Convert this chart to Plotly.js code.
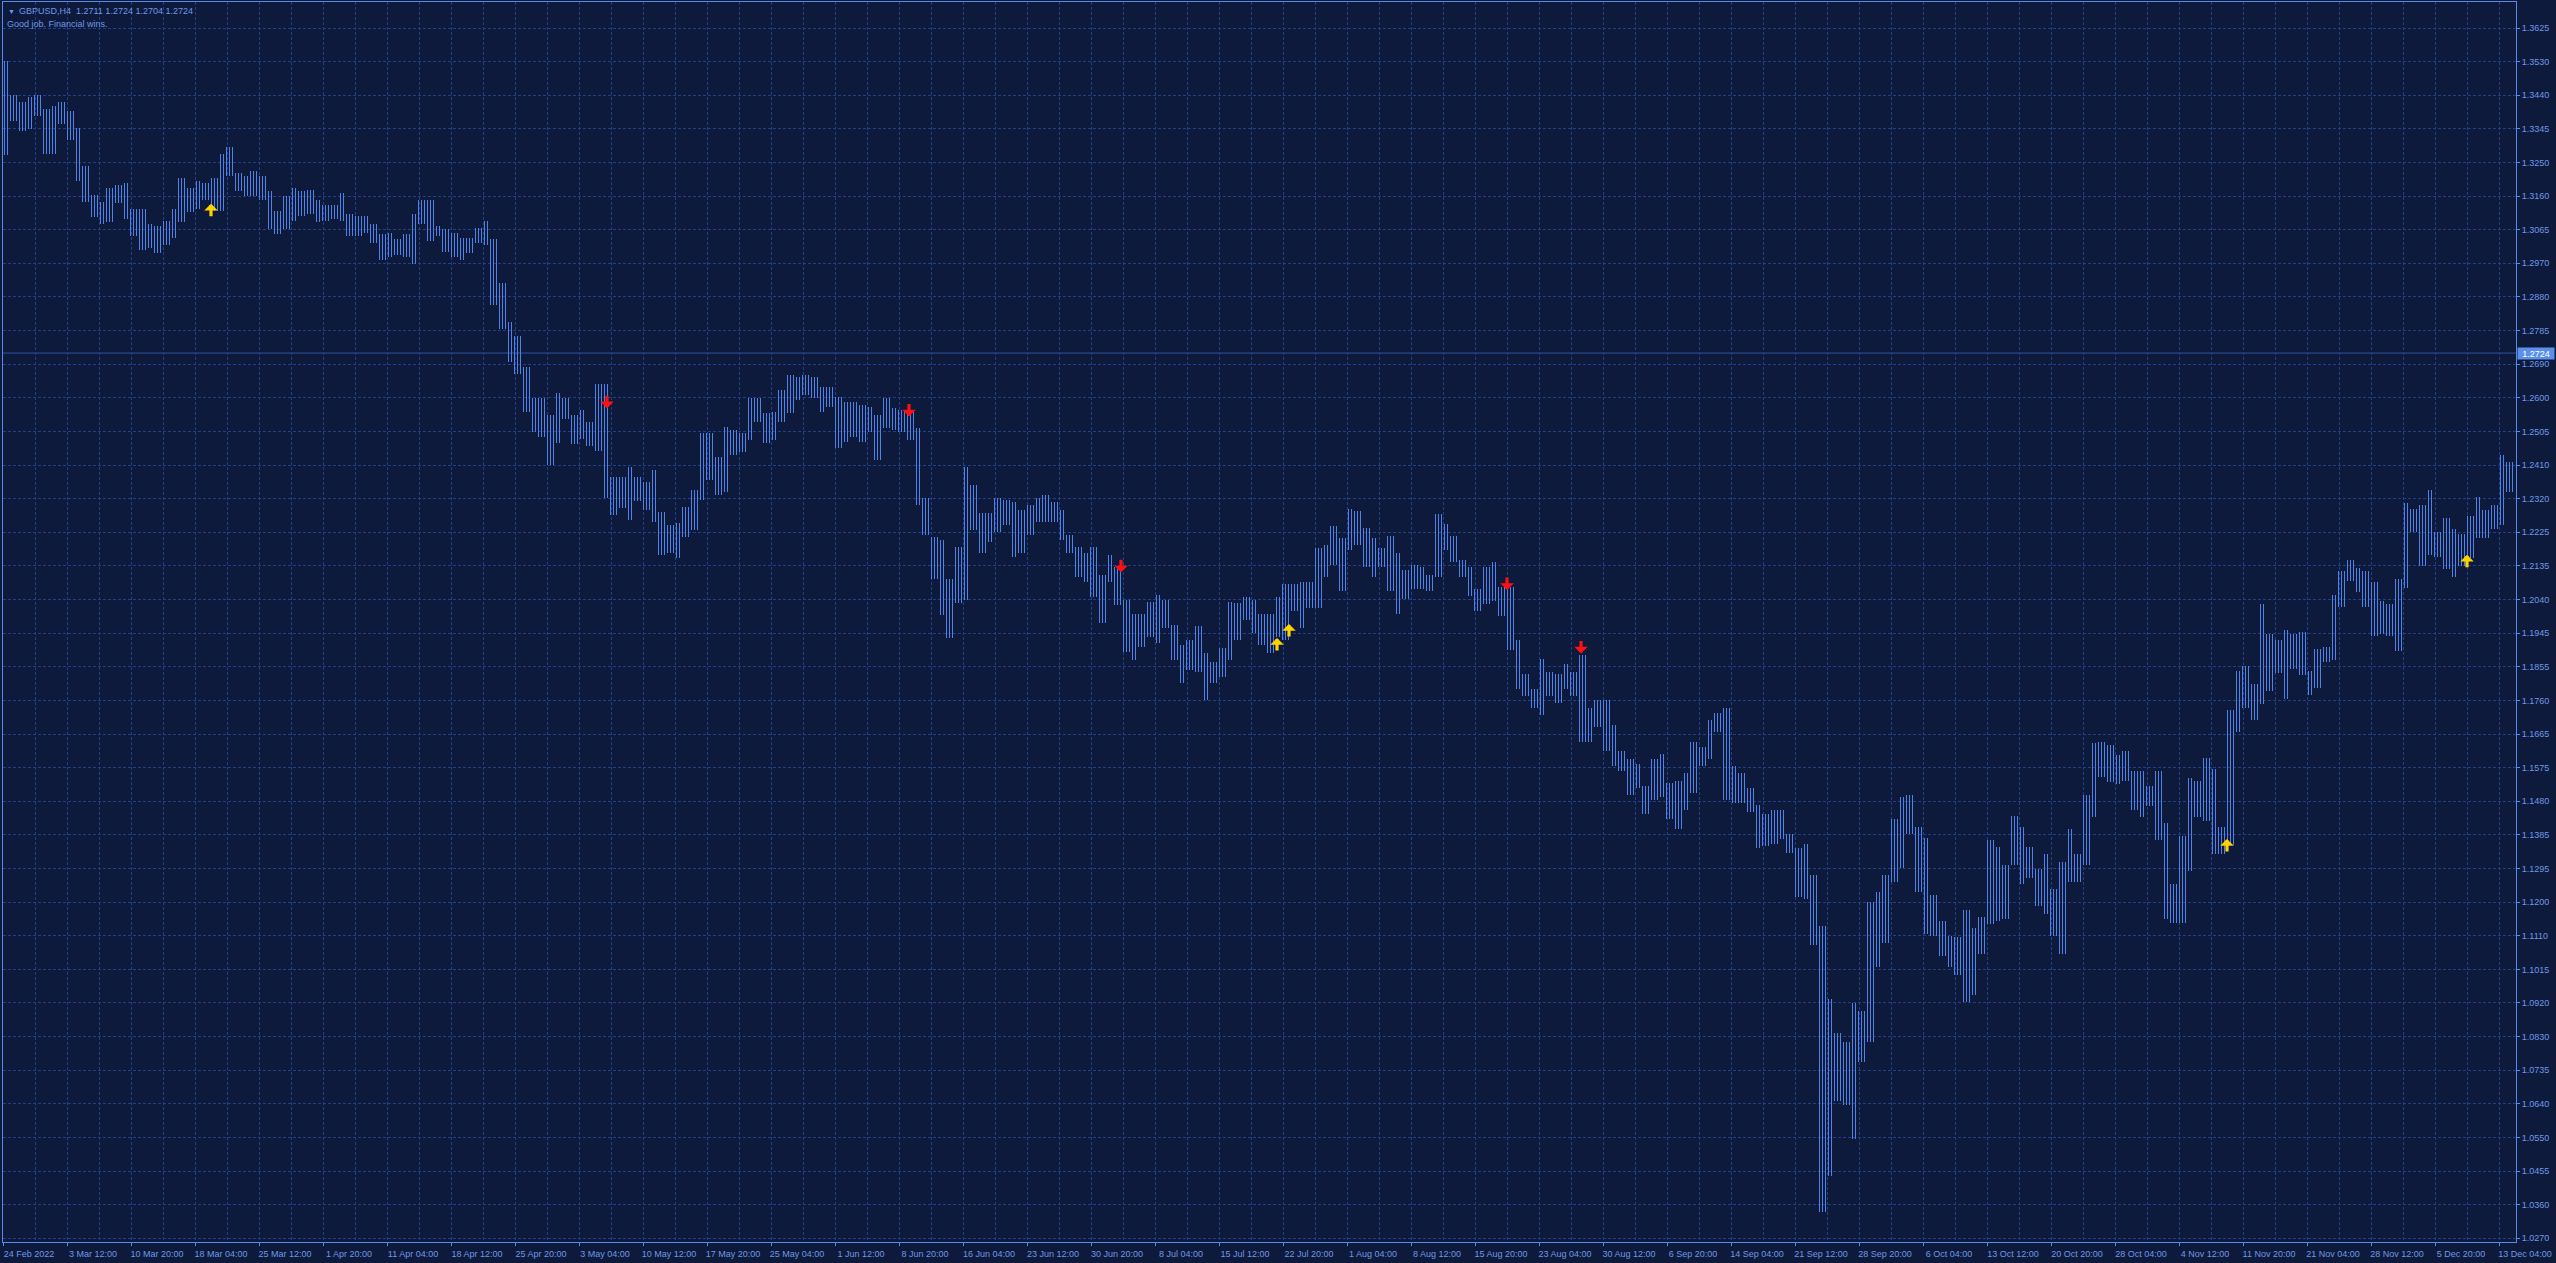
<!DOCTYPE html>
<html><head><meta charset="utf-8">
<script src="https://cdn.plot.ly/plotly-3.0.1.min.js"></script>
<style>html,body{margin:0;padding:0;background:#0e1a3c;overflow:hidden}#chart{width:2556px;height:1263px}</style>
</head><body><div id="chart"></div>
<script>
// ---------- data ----------
const symbolName = "GBPUSD,H4";
const lastBarOHLC = [1.2711, 1.2724, 1.2704, 1.2724];
const chartComment = "Good job. Financial wins.";
const currentPrice = 1.2724;
const barsPerGroup = 4;        // each entry below = high/low of 4 consecutive H4 bars
const barsPerXLabel = 32;

const groupHigh = [
 1.3533,1.3439,1.3420,1.3434,1.3439,1.3401,1.3410,1.3420,1.3396,1.3348,
 1.3243,1.3163,1.3143,1.3181,1.3191,1.3196,1.3124,1.3124,1.3081,1.3077,
 1.3091,1.3124,1.3210,1.3181,1.3201,1.3196,1.3210,1.3277,1.3296,1.3224,
 1.3215,1.3229,1.3215,1.3172,1.3119,1.3158,1.3181,1.3172,1.3177,1.3148,
 1.3134,1.3134,1.3167,1.3110,1.3105,1.3105,1.3081,1.3053,1.3058,1.3039,
 1.3053,1.3110,1.3148,1.3148,1.3077,1.3067,1.3058,1.3043,1.3043,1.3072,
 1.3091,1.3039,1.2919,1.2809,1.2771,1.2685,1.2600,1.2600,1.2552,1.2614,
 1.2600,1.2552,1.2566,1.2533,1.2638,1.2638,1.2380,1.2380,1.2409,1.2380,
 1.2367,1.2400,1.2284,1.2247,1.2252,1.2298,1.2344,1.2501,1.2501,1.2437,
 1.2520,1.2511,1.2501,1.2598,1.2598,1.2557,1.2561,1.2621,1.2663,1.2658,
 1.2663,1.2658,1.2631,1.2631,1.2603,1.2589,1.2589,1.2580,1.2575,1.2552,
 1.2598,1.2571,1.2566,1.2561,1.2515,1.2321,1.2215,1.2206,1.2099,1.2187,
 1.2409,1.2358,1.2280,1.2280,1.2321,1.2316,1.2312,1.2289,1.2303,1.2321,
 1.2330,1.2312,1.2289,1.2220,1.2187,1.2169,1.2187,1.2109,1.2164,1.2132,
 1.2039,1.2002,1.2002,1.2035,1.2053,1.2039,1.1970,1.1915,1.1928,1.1966,
 1.1892,1.1868,1.1906,1.2035,1.2030,1.2049,1.2039,1.2002,1.2002,1.2049,
 1.2083,1.2083,1.2090,1.2090,1.2184,1.2191,1.2244,1.2211,1.2291,1.2285,
 1.2238,1.2211,1.2184,1.2218,1.2170,1.2123,1.2137,1.2130,1.2110,1.2278,
 1.2251,1.2218,1.2150,1.2130,1.2070,1.2130,1.2144,1.2076,1.2076,1.1929,
 1.1834,1.1794,1.1875,1.1841,1.1834,1.1861,1.1841,1.1888,1.1740,1.1761,
 1.1761,1.1693,1.1620,1.1599,1.1586,1.1525,1.1599,1.1613,1.1532,1.1539,
 1.1559,1.1646,1.1633,1.1707,1.1727,1.1740,1.1579,1.1559,1.1519,1.1472,
 1.1445,1.1458,1.1458,1.1391,1.1351,1.1364,1.1277,1.1136,1.0934,1.0840,
 1.0813,1.0921,1.0900,1.1203,1.1230,1.1277,1.1431,1.1492,1.1499,1.1411,
 1.1380,1.1221,1.1150,1.1109,1.1104,1.1181,1.1129,1.1160,1.1375,1.1355,
 1.1304,1.1442,1.1411,1.1355,1.1293,1.1334,1.1237,1.1314,1.1406,1.1334,
 1.1498,1.1642,1.1647,1.1637,1.1611,1.1621,1.1565,1.1565,1.1524,1.1565,
 1.1422,1.1252,1.1386,1.1545,1.1539,1.1601,1.1570,1.1411,1.1734,1.1842,
 1.1857,1.1806,1.2027,1.1945,1.1929,1.1955,1.1945,1.1950,1.1842,1.1903,
 1.1909,1.2052,1.2119,1.2150,1.2129,1.2119,1.2088,1.2037,1.2027,1.2098,
 1.2309,1.2293,1.2303,1.2345,1.2227,1.2268,1.2237,1.2221,1.2273,1.2324,
 1.2288,1.2303,1.2442,1.2421
];
const groupLow = [
 1.3272,1.3367,1.3339,1.3344,1.3382,1.3277,1.3277,1.3358,1.3315,1.3201,
 1.3143,1.3100,1.3081,1.3086,1.3139,1.3096,1.3048,1.3010,1.3014,1.3000,
 1.3024,1.3043,1.3086,1.3115,1.3124,1.3148,1.3119,1.3118,1.3215,1.3172,
 1.3158,1.3158,1.3148,1.3067,1.3053,1.3067,1.3091,1.3105,1.3110,1.3086,
 1.3091,1.3096,1.3091,1.3048,1.3048,1.3058,1.3029,1.2981,1.2991,1.2995,
 1.2991,1.2972,1.3081,1.3034,1.3048,1.3005,1.2991,1.2981,1.3000,1.3029,
 1.3024,1.2857,1.2790,1.2700,1.2666,1.2561,1.2504,1.2490,1.2414,1.2475,
 1.2542,1.2471,1.2485,1.2466,1.2452,1.2323,1.2275,1.2294,1.2261,1.2313,
 1.2289,1.2257,1.2164,1.2169,1.2155,1.2215,1.2233,1.2316,1.2372,1.2330,
 1.2340,1.2441,1.2451,1.2483,1.2534,1.2474,1.2483,1.2534,1.2557,1.2594,
 1.2608,1.2598,1.2561,1.2575,1.2460,1.2478,1.2492,1.2478,1.2506,1.2427,
 1.2515,1.2511,1.2506,1.2483,1.2303,1.2220,1.2099,1.1998,1.1933,1.2030,
 1.2039,1.2233,1.2169,1.2201,1.2229,1.2247,1.2160,1.2169,1.2220,1.2257,
 1.2257,1.2257,1.2206,1.2169,1.2104,1.2090,1.2049,1.1975,1.2090,1.2026,
 1.1896,1.1873,1.1910,1.1938,1.1919,1.1961,1.1873,1.1808,1.1845,1.1841,
 1.1762,1.1808,1.1827,1.1873,1.1928,1.1984,1.1947,1.1915,1.1892,1.1938,
 1.1929,1.2009,1.1962,1.2016,1.2016,1.2103,1.2137,1.2063,1.2177,1.2191,
 1.2130,1.2103,1.2130,1.2063,1.2002,1.2043,1.2070,1.2070,1.2063,1.2103,
 1.2177,1.2144,1.2103,1.2050,1.2009,1.2029,1.2036,1.1996,1.1902,1.1794,
 1.1774,1.1740,1.1720,1.1774,1.1754,1.1794,1.1774,1.1646,1.1646,1.1687,
 1.1620,1.1579,1.1566,1.1499,1.1519,1.1445,1.1485,1.1492,1.1431,1.1404,
 1.1458,1.1505,1.1579,1.1599,1.1673,1.1485,1.1478,1.1478,1.1451,1.1351,
 1.1357,1.1364,1.1378,1.1337,1.1217,1.1210,1.1082,1.0343,1.0443,1.0652,
 1.0639,1.0544,1.0760,1.0813,1.1021,1.1089,1.1257,1.1297,1.1391,1.1230,
 1.1114,1.1109,1.1052,1.1022,1.1001,1.0924,1.0945,1.1057,1.1140,1.1150,
 1.1155,1.1304,1.1252,1.1268,1.1191,1.1170,1.1109,1.1057,1.1257,1.1257,
 1.1304,1.1437,1.1550,1.1534,1.1529,1.1539,1.1457,1.1437,1.1468,1.1375,
 1.1155,1.1145,1.1145,1.1288,1.1437,1.1427,1.1334,1.1334,1.1360,1.1673,
 1.1739,1.1708,1.1750,1.1786,1.1837,1.1765,1.1847,1.1832,1.1775,1.1796,
 1.1868,1.1873,1.2021,1.2093,1.2062,1.2021,1.1939,1.1945,1.1939,1.1898,
 1.2073,1.2227,1.2134,1.2165,1.2160,1.2124,1.2103,1.2134,1.2155,1.2211,
 1.2211,1.2237,1.2247,1.2339
];

const xTickLabels = ["24 Feb 2022","3 Mar 12:00","10 Mar 20:00","18 Mar 04:00","25 Mar 12:00","1 Apr 20:00","11 Apr 04:00","18 Apr 12:00","25 Apr 20:00","3 May 04:00","10 May 12:00","17 May 20:00","25 May 04:00","1 Jun 12:00","8 Jun 20:00","16 Jun 04:00","23 Jun 12:00","30 Jun 20:00","8 Jul 04:00","15 Jul 12:00","22 Jul 20:00","1 Aug 04:00","8 Aug 12:00","15 Aug 20:00","23 Aug 04:00","30 Aug 12:00","6 Sep 20:00","14 Sep 04:00","21 Sep 12:00","28 Sep 20:00","6 Oct 04:00","13 Oct 12:00","20 Oct 20:00","28 Oct 04:00","4 Nov 12:00","11 Nov 20:00","21 Nov 04:00","28 Nov 12:00","5 Dec 20:00","13 Dec 04:00"];

const yTickLabels = ["1.3625","1.3530","1.3440","1.3345","1.3250","1.3160","1.3065","1.2970","1.2880","1.2785","1.2690","1.2600","1.2505","1.2410","1.2320","1.2225","1.2135","1.2040","1.1945","1.1855","1.1760","1.1665","1.1575","1.1480","1.1385","1.1295","1.1200","1.1110","1.1015","1.0920","1.0830","1.0735","1.0640","1.0550","1.0455","1.0360","1.0270"];

const buyArrowBar   = [104, 637, 643, 1112, 1232];
const buyArrowPrice = [1.3138, 1.1934, 1.1973, 1.1377, 1.2165];
const sellArrowBar   = [302, 453, 559, 752, 789];
const sellArrowPrice = [1.2571, 1.2548, 1.2116, 1.2067, 1.1891];

// ---------- styles ----------
const BG = '#0e1a3c';
const GRID = '#213f85';
const FRAME = '#5b8ae6';
const TEXT = '#6f98e4';
const BAR = '#5282e6';
const FONT = '"Liberation Sans", Arial, sans-serif';

const gx = groupHigh.map((_, g) => g * barsPerGroup + (barsPerGroup - 1) / 2);
const gRange = groupHigh.map((h, g) => h - groupLow[g]);

const topVal = parseFloat(yTickLabels[0]);
const botVal = parseFloat(yTickLabels[yTickLabels.length - 1]);
const yStep = (topVal - botVal) / (yTickLabels.length - 1);
const yTickVals = yTickLabels.map((_, k) => topVal - k * yStep);
const pxPerStep = 33.62;
const pricePerPx = yStep / pxPerStep;
const yMax = topVal + 26 * pricePerPx;
const yMin = topVal - 1214 * pricePerPx;

const xTickVals = xTickLabels.map((_, k) => k * barsPerXLabel);

const traces = [{
  type: 'bar', x: gx, base: groupLow, y: gRange, width: barsPerGroup,
  marker: { color: 'rgba(0,0,0,0)', line: { width: 0 },
    pattern: { shape: '|', size: 3, solidity: 0.34, fgcolor: BAR, bgcolor: 'rgba(0,0,0,0)', fillmode: 'replace' } },
  hoverinfo: 'skip', showlegend: false
}];

const annotations = [];
annotations.push({ xref: 'paper', yref: 'paper', x: 0, y: 1, xanchor: 'left', yanchor: 'middle', xshift: 3, yshift: -9,
  text: '\u25BC', showarrow: false, font: { family: FONT, size: 7, color: TEXT } });
annotations.push({ xref: 'paper', yref: 'paper', x: 0, y: 1, xanchor: 'left', yanchor: 'middle', xshift: 14, yshift: -9,
  text: symbolName + '\u00a0\u00a0' + lastBarOHLC.map(v => v.toFixed(4)).join(' '), showarrow: false,
  font: { family: FONT, size: 9, color: TEXT } });
annotations.push({ xref: 'paper', yref: 'paper', x: 0, y: 1, xanchor: 'left', yanchor: 'middle', xshift: 2, yshift: -22,
  text: chartComment, showarrow: false, font: { family: FONT, size: 9, color: TEXT } });
annotations.push({ xref: 'paper', yref: 'y', x: 1, y: currentPrice, xanchor: 'left', yanchor: 'middle', xshift: 1,
  text: currentPrice.toFixed(4), showarrow: false, bgcolor: '#5b8fe9', width: 34, height: 9, borderpad: 1,
  font: { family: FONT, size: 9, color: '#ffffff' } });

buyArrowBar.forEach((b, k) => annotations.push({ x: b, y: buyArrowPrice[k], xref: 'x', yref: 'y', text: '',
  showarrow: true, ax: 0, ay: 14, arrowhead: 1, arrowsize: 0.7, arrowwidth: 3.2, arrowcolor: '#ffd200', standoff: 0 }));
sellArrowBar.forEach((b, k) => annotations.push({ x: b, y: sellArrowPrice[k], xref: 'x', yref: 'y', text: '',
  showarrow: true, ax: 0, ay: -14, arrowhead: 1, arrowsize: 0.7, arrowwidth: 3.2, arrowcolor: '#ff1010', standoff: 0 }));

const layout = {
  width: 2556, height: 1263,
  margin: { l: 3, r: 40, t: 2, b: 21 },
  paper_bgcolor: BG, plot_bgcolor: BG,
  showlegend: false, bargap: 0,
  xaxis: {
    range: [0, 1256.5], tickmode: 'array', tickvals: xTickVals, ticktext: xTickLabels,
    ticks: 'outside', ticklen: 3, tickcolor: FRAME, ticklabelshift: 26,
    tickfont: { family: FONT, size: 9, color: TEXT },
    showgrid: true, gridcolor: GRID, griddash: '3px,2px', gridwidth: 1,
    minor: { tickmode: 'linear', tick0: 0, dtick: barsPerXLabel / 2, showgrid: true, gridcolor: GRID, griddash: '3px,2px', gridwidth: 1, ticks: '' },
    showline: true, mirror: true, linecolor: FRAME, linewidth: 1, zeroline: false, fixedrange: true
  },
  yaxis: {
    side: 'right', range: [yMin, yMax], tickmode: 'array', tickvals: yTickVals, ticktext: yTickLabels,
    ticks: 'outside', ticklen: 3, tickcolor: FRAME,
    tickfont: { family: FONT, size: 9, color: TEXT },
    showgrid: true, gridcolor: GRID, griddash: '3px,2px', gridwidth: 1,
    showline: true, mirror: true, linecolor: FRAME, linewidth: 1, zeroline: false, fixedrange: true
  },
  shapes: [{ type: 'line', xref: 'paper', yref: 'y', x0: 0, x1: 1, y0: currentPrice, y1: currentPrice,
    line: { color: '#2c529e', width: 1 }, layer: 'below' }],
  annotations: annotations
};

Plotly.newPlot('chart', traces, layout, { displayModeBar: false, staticPlot: true });
</script>
</body></html>
